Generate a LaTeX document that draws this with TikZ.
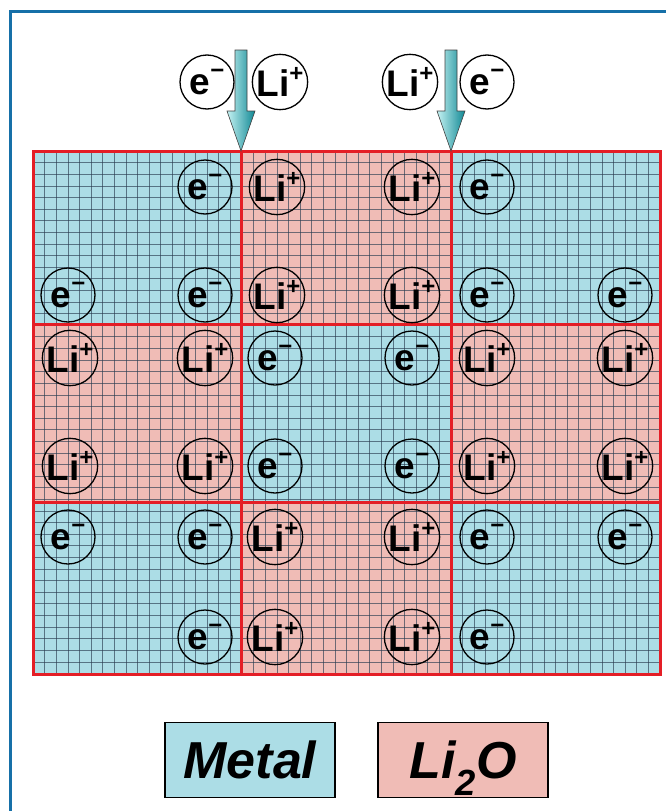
\documentclass[tikz,border=0pt]{standalone}
\usepackage{fontspec}
\setmainfont{Liberation Sans}
\usetikzlibrary{calc}
\definecolor{metalfill}{RGB}{172,221,230}
\definecolor{oxidefill}{RGB}{240,188,182}
\definecolor{wallred}{RGB}{228,30,38}
\definecolor{gridink}{RGB}{40,60,80}
\definecolor{framebl}{RGB}{22,112,168}
\definecolor{feedlt}{RGB}{196,242,242}
\definecolor{feeddk}{RGB}{16,136,148}
\newcommand\chg[1]{\raisebox{0.42em}{\fontsize{24}{24}\selectfont #1}}
\newcommand\elec{e\chg{−}}
\newcommand\lion{Li\chg{+}}

\begin{document}
\begin{tikzpicture}[x=1pt,y=-1pt,
  ion/.style={draw,circle,line width=1.3pt,minimum size=54pt,inner sep=0pt,
    font=\fontsize{37}{37}\selectfont\bfseries},
  key/.style={draw,line width=1.3pt,minimum width=170pt,minimum height=75pt,
    inner sep=0pt,text height=37pt,text depth=0pt,
    font=\fontsize{52}{52}\selectfont\bfseries\itshape},
  wall/.style={wallred,line width=3pt},
  gridln/.style={gridink,opacity=0.65,line width=0.6pt},
  feed/.style={draw=black!75,line width=0.6pt,left color=feedlt,right color=feeddk}]
  \useasboundingbox (0,0) rectangle (666,811);
  \draw[framebl,line width=3pt] (10,811) -- (10,11) -- (666,11);
  % panels, metal and Li2O in a checker pattern
  \foreach \r/\ya/\yb in {1/151/324,2/324/502,3/502/674}
    \foreach \c/\xa/\xb in {1/33/241,2/241/451,3/451/660} {
      \pgfmathtruncatemacro\k{mod(\r+\c,2)}
      \ifnum\k=0 \def\col{metalfill}\else\def\col{oxidefill}\fi
      \fill[\col] (\xa,\ya) rectangle (\xb,\yb);
    }
  \foreach \i in {1,...,53}
    \draw[gridln] (33+\i*11.61,151) -- (33+\i*11.61,674);
  \foreach \i in {1,...,44}
    \draw[gridln] (33,151+\i*11.61) -- (660,151+\i*11.61);
  \draw[wall] (33,151) rectangle (660,674);
  \draw[wall] (241,151) -- (241,674) (451,151) -- (451,674);
  \draw[wall] (33,324) -- (660,324) (33,502) -- (660,502);
  % electrons and ions
  \foreach \x/\y [count=\n] in {205/187,68/295,205/295,487/187,487/295,625/295,
      275/358,412/358,275/466,412/466,
      68/537,205/537,205/637,487/537,625/537,487/637}
    \node[ion] (e\n) at (\x,\y) {\elec};
  \foreach \x/\y [count=\n] in {277/187,412/187,277/295,412/295,
      70/358,205/358,70/466,205/466,487/358,625/358,487/466,625/466,
      275/537,412/537,275/637,412/637}
    \node[ion] (li\n) at (\x,\y) {\lion};
  % feed at the top
  \node[ion] (te1) at (207,82) {\elec};
  \node[ion] (tl1) at (280,82) {\lion};
  \node[ion] (tl2) at (410,82) {\lion};
  \node[ion] (te2) at (487,82) {\elec};
  \coordinate (tail1) at (241,50);
  \coordinate (tip1) at (241,151);
  \coordinate (tail2) at (451,50);
  \coordinate (tip2) at (451,151);
  \foreach \a/\b in {tail1/tip1,tail2/tip2}
    \shade[feed] ($(\a)+(-6,0)$) -- ($(\a)+(6,0)$) -- ($(\b)+(6,-40)$)
      -- ($(\b)+(14,-40)$) -- (\b) -- ($(\b)+(-14,-40)$) -- ($(\b)+(-6,-40)$)
      -- cycle;
  % legend
  \node[key,fill=metalfill] (metal) at (250,760) {Metal};
  \node[key,fill=oxidefill] (oxide) at (463,760) {Li\textsubscript{2}O};
\end{tikzpicture}
\end{document}
